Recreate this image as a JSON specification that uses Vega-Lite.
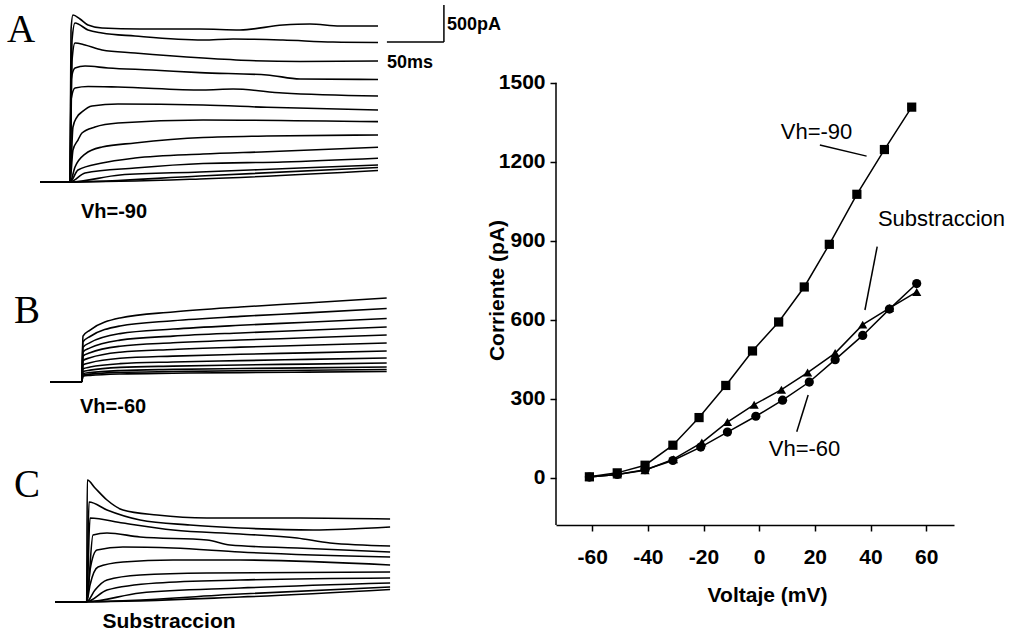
{
"$schema":"https://vega.github.io/schema/vega-lite/v6.json",
"padding":0,
"background":"white",
"bounds":"flush",
"spacing":56,
"config":{"view":{"stroke":null},"font":"Liberation Sans"},
"datasets":{
"traceA":[
{"k":1,"t":-26.3,"I":0},{"k":1,"t":0,"I":0},{"k":1,"t":0.9,"I":2054},{"k":1,"t":2.6,"I":2256},{"k":1,"t":8.8,"I":2202},{"k":1,"t":15.8,"I":2121},{"k":1,"t":28.1,"I":2081},{"k":1,"t":61.4,"I":2067},{"k":1,"t":114,"I":2067},{"k":1,"t":149.1,"I":2054},{"k":1,"t":186.8,"I":2121},{"k":1,"t":210.5,"I":2135},{"k":1,"t":236.8,"I":2108},{"k":1,"t":270.2,"I":2108},
{"k":2,"t":-26.3,"I":0},{"k":2,"t":0,"I":0},{"k":2,"t":1.8,"I":1918},{"k":2,"t":4.4,"I":2148},{"k":2,"t":15.8,"I":2054},{"k":2,"t":28.1,"I":2013},{"k":2,"t":57,"I":1972},{"k":2,"t":116.7,"I":1918},{"k":2,"t":143,"I":1932},{"k":2,"t":186.8,"I":1918},{"k":2,"t":230.7,"I":1891},{"k":2,"t":270.2,"I":1885},
{"k":3,"t":-26.3,"I":0},{"k":3,"t":0,"I":0},{"k":3,"t":1.8,"I":1648},{"k":3,"t":4.4,"I":1878},{"k":3,"t":13.2,"I":1851},{"k":3,"t":28.1,"I":1783},{"k":3,"t":57,"I":1743},{"k":3,"t":116.7,"I":1675},{"k":3,"t":157.9,"I":1641},{"k":3,"t":201.8,"I":1628},{"k":3,"t":270.2,"I":1635},
{"k":4,"t":-26.3,"I":0},{"k":4,"t":0,"I":0},{"k":4,"t":0.9,"I":1378},{"k":4,"t":4.4,"I":1540},{"k":4,"t":13.2,"I":1567},{"k":4,"t":33.3,"I":1540},{"k":4,"t":71.9,"I":1513},{"k":4,"t":114,"I":1477},{"k":4,"t":172.8,"I":1446},{"k":4,"t":201.8,"I":1392},{"k":4,"t":270.2,"I":1385},
{"k":5,"t":-26.3,"I":0},{"k":5,"t":0,"I":0},{"k":5,"t":0.9,"I":1108},{"k":5,"t":4.4,"I":1270},{"k":5,"t":15.8,"I":1290},{"k":5,"t":42.1,"I":1283},{"k":5,"t":116.7,"I":1243},{"k":5,"t":143,"I":1256},{"k":5,"t":186.8,"I":1202},{"k":5,"t":270.2,"I":1162},
{"k":6,"t":-26.3,"I":0},{"k":6,"t":0,"I":0},{"k":6,"t":2.6,"I":743},{"k":6,"t":6.1,"I":878},{"k":6,"t":10.5,"I":946},{"k":6,"t":19.3,"I":1027},{"k":6,"t":42.1,"I":1054},{"k":6,"t":116.7,"I":1040},{"k":6,"t":172.8,"I":1009},{"k":6,"t":270.2,"I":973},
{"k":7,"t":-26.3,"I":0},{"k":7,"t":0,"I":0},{"k":7,"t":2.6,"I":432},{"k":7,"t":7,"I":567},{"k":7,"t":10.5,"I":662},{"k":7,"t":21.9,"I":743},{"k":7,"t":42.1,"I":797},{"k":7,"t":116.7,"I":838},{"k":7,"t":270.2,"I":815},
{"k":8,"t":-26.3,"I":0},{"k":8,"t":0,"I":0},{"k":8,"t":4.4,"I":203},{"k":8,"t":13.2,"I":378},{"k":8,"t":28.1,"I":473},{"k":8,"t":57,"I":527},{"k":8,"t":116.7,"I":601},{"k":8,"t":172.8,"I":621},{"k":8,"t":270.2,"I":635},
{"k":9,"t":-26.3,"I":0},{"k":9,"t":0,"I":0},{"k":9,"t":7,"I":162},{"k":9,"t":28.1,"I":257},{"k":9,"t":57,"I":324},{"k":9,"t":116.7,"I":378},{"k":9,"t":172.8,"I":409},{"k":9,"t":270.2,"I":469},
{"k":10,"t":-26.3,"I":0},{"k":10,"t":0,"I":0},{"k":10,"t":13.2,"I":122},{"k":10,"t":57,"I":189},{"k":10,"t":116.7,"I":250},{"k":10,"t":186.8,"I":270},{"k":10,"t":270.2,"I":320},
{"k":11,"t":-26.3,"I":0},{"k":11,"t":0,"I":0},{"k":11,"t":43.9,"I":95},{"k":11,"t":114,"I":135},{"k":11,"t":201.8,"I":189},{"k":11,"t":270.2,"I":230},
{"k":12,"t":-26.3,"I":0},{"k":12,"t":0,"I":0},{"k":12,"t":114,"I":81},{"k":12,"t":270.2,"I":196},
{"k":13,"t":-26.3,"I":0},{"k":13,"t":0,"I":0},{"k":13,"t":114,"I":41},{"k":13,"t":270.2,"I":155}
],
"traceB":[
{"k":1,"t":-27.8,"I":0},{"k":1,"t":0,"I":0},{"k":1,"t":1.1,"I":617},{"k":1,"t":7.3,"I":698},{"k":1,"t":33.6,"I":861},{"k":1,"t":80.1,"I":942},{"k":1,"t":138.9,"I":1009},{"k":1,"t":197.6,"I":1063},{"k":1,"t":267.5,"I":1131},
{"k":2,"t":-27.8,"I":0},{"k":2,"t":0,"I":0},{"k":2,"t":1.1,"I":540},{"k":2,"t":7.3,"I":611},{"k":2,"t":33.6,"I":753},{"k":2,"t":80.1,"I":824},{"k":2,"t":138.9,"I":882},{"k":2,"t":197.6,"I":930},{"k":2,"t":267.5,"I":989},
{"k":3,"t":-27.8,"I":0},{"k":3,"t":0,"I":0},{"k":3,"t":1.1,"I":466},{"k":3,"t":7.3,"I":528},{"k":3,"t":33.6,"I":650},{"k":3,"t":80.1,"I":711},{"k":3,"t":138.9,"I":762},{"k":3,"t":197.6,"I":803},{"k":3,"t":267.5,"I":854},
{"k":4,"t":-27.8,"I":0},{"k":4,"t":0,"I":0},{"k":4,"t":1.1,"I":403},{"k":4,"t":7.3,"I":457},{"k":4,"t":33.6,"I":562},{"k":4,"t":80.1,"I":616},{"k":4,"t":138.9,"I":659},{"k":4,"t":197.6,"I":695},{"k":4,"t":267.5,"I":739},
{"k":5,"t":-27.8,"I":0},{"k":5,"t":0,"I":0},{"k":5,"t":1.1,"I":345},{"k":5,"t":7.3,"I":390},{"k":5,"t":33.6,"I":480},{"k":5,"t":80.1,"I":526},{"k":5,"t":138.9,"I":563},{"k":5,"t":197.6,"I":593},{"k":5,"t":267.5,"I":631},
{"k":6,"t":-27.8,"I":0},{"k":6,"t":0,"I":0},{"k":6,"t":1.1,"I":286},{"k":6,"t":7.3,"I":323},{"k":6,"t":33.6,"I":398},{"k":6,"t":80.1,"I":436},{"k":6,"t":138.9,"I":467},{"k":6,"t":197.6,"I":492},{"k":6,"t":267.5,"I":523},
{"k":7,"t":-27.8,"I":0},{"k":7,"t":0,"I":0},{"k":7,"t":1.1,"I":227},{"k":7,"t":7.3,"I":256},{"k":7,"t":33.6,"I":316},{"k":7,"t":80.1,"I":346},{"k":7,"t":138.9,"I":370},{"k":7,"t":197.6,"I":390},{"k":7,"t":267.5,"I":415},
{"k":8,"t":-27.8,"I":0},{"k":8,"t":0,"I":0},{"k":8,"t":1.1,"I":175},{"k":8,"t":7.3,"I":198},{"k":8,"t":33.6,"I":244},{"k":8,"t":80.1,"I":267},{"k":8,"t":138.9,"I":285},{"k":8,"t":197.6,"I":301},{"k":8,"t":267.5,"I":320},
{"k":9,"t":-27.8,"I":0},{"k":9,"t":0,"I":0},{"k":9,"t":1.1,"I":138},{"k":9,"t":7.3,"I":156},{"k":9,"t":33.6,"I":193},{"k":9,"t":80.1,"I":211},{"k":9,"t":138.9,"I":226},{"k":9,"t":197.6,"I":238},{"k":9,"t":267.5,"I":253},
{"k":10,"t":-27.8,"I":0},{"k":10,"t":0,"I":0},{"k":10,"t":1.1,"I":109},{"k":10,"t":7.3,"I":123},{"k":10,"t":33.6,"I":151},{"k":10,"t":80.1,"I":166},{"k":10,"t":138.9,"I":178},{"k":10,"t":197.6,"I":187},{"k":10,"t":267.5,"I":199},
{"k":11,"t":-27.8,"I":0},{"k":11,"t":0,"I":0},{"k":11,"t":1.1,"I":90},{"k":11,"t":7.3,"I":102},{"k":11,"t":33.6,"I":126},{"k":11,"t":80.1,"I":137},{"k":11,"t":138.9,"I":147},{"k":11,"t":197.6,"I":155},{"k":11,"t":267.5,"I":165},
{"k":12,"t":-27.8,"I":0},{"k":12,"t":0,"I":0},{"k":12,"t":1.1,"I":75},{"k":12,"t":7.3,"I":85},{"k":12,"t":33.6,"I":105},{"k":12,"t":80.1,"I":115},{"k":12,"t":138.9,"I":123},{"k":12,"t":197.6,"I":130},{"k":12,"t":267.5,"I":138}
],
"traceC":[
{"k":1,"t":-27.8,"I":0},{"k":1,"t":0,"I":0},{"k":1,"t":0.5,"I":1644},{"k":1,"t":7.3,"I":1536},{"k":1,"t":17.8,"I":1374},{"k":1,"t":31.8,"I":1239},{"k":1,"t":61.7,"I":1171},{"k":1,"t":105.5,"I":1131},{"k":1,"t":187.1,"I":1131},{"k":1,"t":266.1,"I":1117},
{"k":2,"t":-27.8,"I":0},{"k":2,"t":0,"I":0},{"k":2,"t":2,"I":1347},{"k":2,"t":17.8,"I":1239},{"k":2,"t":46.8,"I":1104},{"k":2,"t":90.6,"I":1036},{"k":2,"t":134.5,"I":996},{"k":2,"t":198.5,"I":969},{"k":2,"t":266.1,"I":1009},
{"k":3,"t":-27.8,"I":0},{"k":3,"t":0,"I":0},{"k":3,"t":2.9,"I":1131},{"k":3,"t":31.8,"I":1063},{"k":3,"t":75.7,"I":969},{"k":3,"t":134.5,"I":915},{"k":3,"t":184.5,"I":861},{"k":3,"t":213.4,"I":793},{"k":3,"t":266.1,"I":753},
{"k":4,"t":-27.8,"I":0},{"k":4,"t":0,"I":0},{"k":4,"t":5.5,"I":901},{"k":4,"t":17.8,"I":928},{"k":4,"t":46.8,"I":874},{"k":4,"t":105.5,"I":834},{"k":4,"t":125.7,"I":766},{"k":4,"t":184.5,"I":725},{"k":4,"t":266.1,"I":671},
{"k":5,"t":-27.8,"I":0},{"k":5,"t":0,"I":0},{"k":5,"t":2.9,"I":428},{"k":5,"t":9,"I":698},{"k":5,"t":31.8,"I":739},{"k":5,"t":75.7,"I":725},{"k":5,"t":134.5,"I":671},{"k":5,"t":266.1,"I":604},
{"k":6,"t":-27.8,"I":0},{"k":6,"t":0,"I":0},{"k":6,"t":2.9,"I":226},{"k":6,"t":9.9,"I":469},{"k":6,"t":31.8,"I":536},{"k":6,"t":75.7,"I":563},{"k":6,"t":134.5,"I":563},{"k":6,"t":266.1,"I":496},
{"k":7,"t":-27.8,"I":0},{"k":7,"t":0,"I":0},{"k":7,"t":7.3,"I":158},{"k":7,"t":17.8,"I":293},{"k":7,"t":46.8,"I":361},{"k":7,"t":105.5,"I":388},{"k":7,"t":266.1,"I":401},
{"k":8,"t":-27.8,"I":0},{"k":8,"t":0,"I":0},{"k":8,"t":17.8,"I":158},{"k":8,"t":61.7,"I":253},{"k":8,"t":134.5,"I":293},{"k":8,"t":266.1,"I":320},
{"k":9,"t":-27.8,"I":0},{"k":9,"t":0,"I":0},{"k":9,"t":46.8,"I":118},{"k":9,"t":134.5,"I":185},{"k":9,"t":266.1,"I":253},
{"k":10,"t":-27.8,"I":0},{"k":10,"t":0,"I":0},{"k":10,"t":134.5,"I":104},{"k":10,"t":266.1,"I":199},
{"k":11,"t":-27.8,"I":0},{"k":11,"t":0,"I":0},{"k":11,"t":134.5,"I":63},{"k":11,"t":266.1,"I":165}
],
"scalebar":[{"t":328,"I":2391,"t2":328,"I2":1891},{"t":278,"I":1891,"t2":328,"I2":1891}],
"scaletext":[{"label":"500pA","t":330.7,"I":2121},{"label":"50ms","t":278,"I":1608}],
"panelLetters":[{"p":"A","label":"A","t":-43,"I":1891},{"p":"B","label":"B","t":-48,"I":793},{"p":"C","label":"C","t":-52.4,"I":1414}],
"panelNames":[{"p":"A","label":"Vh=-90","t":38.6,"I":-405},{"p":"B","label":"Vh=-60","t":27.5,"I":-342},{"p":"C","label":"Substraccion","t":72.2,"I":-274}],
"iv":[
{"s":"Vh=-90","v":-61,"i":3},{"s":"Vh=-90","v":-51,"i":18},{"s":"Vh=-90","v":-41,"i":47},{"s":"Vh=-90","v":-31,"i":123},{"s":"Vh=-90","v":-21.6,"i":228},{"s":"Vh=-90","v":-12,"i":350},{"s":"Vh=-90","v":-2.4,"i":481},{"s":"Vh=-90","v":7,"i":591},{"s":"Vh=-90","v":16.2,"i":724},{"s":"Vh=-90","v":25.2,"i":886},{"s":"Vh=-90","v":35.1,"i":1076},{"s":"Vh=-90","v":45,"i":1246},{"s":"Vh=-90","v":54.8,"i":1407},
{"s":"Substraccion","v":-61,"i":2},{"s":"Substraccion","v":-51,"i":12},{"s":"Substraccion","v":-41,"i":28},{"s":"Substraccion","v":-30.8,"i":70},{"s":"Substraccion","v":-20.6,"i":133},{"s":"Substraccion","v":-11.4,"i":211},{"s":"Substraccion","v":-1.8,"i":277},{"s":"Substraccion","v":8,"i":334},{"s":"Substraccion","v":17.4,"i":399},{"s":"Substraccion","v":27.3,"i":473},{"s":"Substraccion","v":37.2,"i":581},{"s":"Substraccion","v":46.8,"i":644},{"s":"Substraccion","v":56.6,"i":705},
{"s":"Vh=-60","v":-61,"i":2},{"s":"Vh=-60","v":-51,"i":12},{"s":"Vh=-60","v":-41,"i":30},{"s":"Vh=-60","v":-31,"i":65},{"s":"Vh=-60","v":-21,"i":116},{"s":"Vh=-60","v":-11.4,"i":173},{"s":"Vh=-60","v":-1.2,"i":233},{"s":"Vh=-60","v":8.4,"i":294},{"s":"Vh=-60","v":18,"i":363},{"s":"Vh=-60","v":27.3,"i":448},{"s":"Vh=-60","v":37.2,"i":540},{"s":"Vh=-60","v":46.8,"i":640},{"s":"Vh=-60","v":56.6,"i":737}
],
"yline":[{"v":-73,"i":-180,"i2":1500}],
"arrows":[{"v":21.8,"i":1263,"v2":38.6,"i2":1221},{"v":42.4,"i":877,"v2":38.0,"i2":636.5},{"v":13.5,"i":174,"v2":17.6,"i2":313.7}],
"ivText":[{"label":"Vh=-90","v":20.6,"i":1311},{"label":"Substraccion","v":65.5,"i":982},{"label":"Vh=-60","v":16.3,"i":108.6}]
},
"hconcat":[
{"width":500,"height":634,
"resolve":{"scale":{"x":"independent","y":"independent"}},
"layer":[
{"encoding":{"x":{"field":"t","type":"quantitative","scale":{"domain":[-61.4,377.2],"nice":false,"zero":false},"axis":null},
"y":{"field":"I","type":"quantitative","scale":{"domain":[-6106.5,2458.8],"nice":false,"zero":false},"axis":null}},
"layer":[
{"data":{"name":"traceA"},"mark":{"type":"line","color":"black","strokeWidth":1.6,"interpolate":"monotone"},"encoding":{"detail":{"field":"k","type":"nominal"}}},
{"data":{"name":"scalebar"},"mark":{"type":"rule","color":"black","strokeWidth":1.5},"encoding":{"x2":{"field":"t2"},"y2":{"field":"I2"}}},
{"data":{"name":"scaletext"},"mark":{"type":"text","align":"left","baseline":"middle","fontSize":18,"fontWeight":"bold","color":"black"},"encoding":{"text":{"field":"label"}}},
{"data":{"name":"panelLetters"},"transform":[{"filter":"datum.p==='A'"}],"mark":{"type":"text","font":"Liberation Serif","fontSize":39,"align":"center","baseline":"alphabetic","color":"black"},"encoding":{"text":{"field":"label"}}},
{"data":{"name":"panelNames"},"transform":[{"filter":"datum.p==='A'"}],"mark":{"type":"text","fontSize":20,"fontWeight":"bold","align":"center","baseline":"middle","color":"black"},"encoding":{"text":{"field":"label"}}}
]},
{"encoding":{"x":{"field":"t","type":"quantitative","scale":{"domain":[-71.7,366.9],"nice":false,"zero":false},"axis":null},
"y":{"field":"I","type":"quantitative","scale":{"domain":[-3408.5,5156.8],"nice":false,"zero":false},"axis":null}},
"layer":[
{"data":{"name":"traceB"},"mark":{"type":"line","color":"black","strokeWidth":1.6,"interpolate":"monotone"},"encoding":{"detail":{"field":"k","type":"nominal"}}},
{"data":{"name":"panelLetters"},"transform":[{"filter":"datum.p==='B'"}],"mark":{"type":"text","font":"Liberation Serif","fontSize":39,"align":"center","baseline":"alphabetic","color":"black"},"encoding":{"text":{"field":"label"}}},
{"data":{"name":"panelNames"},"transform":[{"filter":"datum.p==='B'"}],"mark":{"type":"text","fontSize":20,"fontWeight":"bold","align":"center","baseline":"middle","color":"black"},"encoding":{"text":{"field":"label"}}}
]},
{"encoding":{"x":{"field":"t","type":"quantitative","scale":{"domain":[-76.05,362.5],"nice":false,"zero":false},"axis":null},
"y":{"field":"I","type":"quantitative","scale":{"domain":[-436.3,8129],"nice":false,"zero":false},"axis":null}},
"layer":[
{"data":{"name":"traceC"},"mark":{"type":"line","color":"black","strokeWidth":1.6,"interpolate":"monotone"},"encoding":{"detail":{"field":"k","type":"nominal"}}},
{"data":{"name":"panelLetters"},"transform":[{"filter":"datum.p==='C'"}],"mark":{"type":"text","font":"Liberation Serif","fontSize":39,"align":"center","baseline":"alphabetic","color":"black"},"encoding":{"text":{"field":"label"}}},
{"data":{"name":"panelNames"},"transform":[{"filter":"datum.p==='C'"}],"mark":{"type":"text","fontSize":21,"fontWeight":"bold","align":"center","baseline":"middle","color":"black"},"encoding":{"text":{"field":"label"}}}
]}
]},
{"width":398,"height":525,
"encoding":{
"x":{"field":"v","type":"quantitative","scale":{"domain":[-73,70],"nice":false,"zero":false},
"axis":{"values":[-60,-40,-20,0,20,40,60],"labelExpr":"'' + datum.value","title":"Voltaje (mV)","grid":false,"domain":true,"domainColor":"black","domainWidth":1.5,"tickColor":"black","tickWidth":1.5,"tickSize":6,"labelFontSize":21,"labelFontWeight":"bold","labelColor":"black","labelPadding":15,"labelFlush":false,"titleFontSize":21,"titleFontWeight":"bold","titleColor":"black","titleX":211,"titleY":70,"titleBaseline":"middle","titleAlign":"center","titleAnchor":null}},
"y":{"field":"i","type":"quantitative","scale":{"domain":[-180,1813.9],"nice":false,"zero":false},
"axis":{"values":[0,300,600,900,1200,1500],"labelExpr":"'' + datum.value","title":"Corriente (pA)","grid":false,"domain":false,"tickColor":"black","tickWidth":1.5,"tickSize":6,"labelFontSize":21,"labelFontWeight":"bold","labelColor":"black","labelPadding":5,"labelFlush":false,"titleFontSize":21,"titleFontWeight":"bold","titleColor":"black","titleX":-59,"titleY":290,"titleAngle":-90,"titleBaseline":"middle","titleAlign":"center","titleAnchor":null}}
},
"layer":[
{"data":{"name":"yline"},"mark":{"type":"rule","color":"black","strokeWidth":1.5},"encoding":{"y2":{"field":"i2"}}},
{"data":{"name":"iv"},"mark":{"type":"line","color":"black","strokeWidth":1.5},"encoding":{"detail":{"field":"s","type":"nominal"}}},
{"data":{"name":"iv"},"mark":{"type":"point","filled":true,"color":"black","opacity":1,"size":85},"encoding":{"shape":{"field":"s","type":"nominal","scale":{"domain":["Vh=-90","Substraccion","Vh=-60"],"range":["square","triangle-up","circle"]},"legend":null}}},
{"data":{"name":"arrows"},"mark":{"type":"rule","color":"black","strokeWidth":1.5},"encoding":{"x2":{"field":"v2"},"y2":{"field":"i2"}}},
{"data":{"name":"ivText"},"mark":{"type":"text","fontSize":22,"align":"center","baseline":"middle","color":"black"},"encoding":{"text":{"field":"label"}}}
]}
]
}
